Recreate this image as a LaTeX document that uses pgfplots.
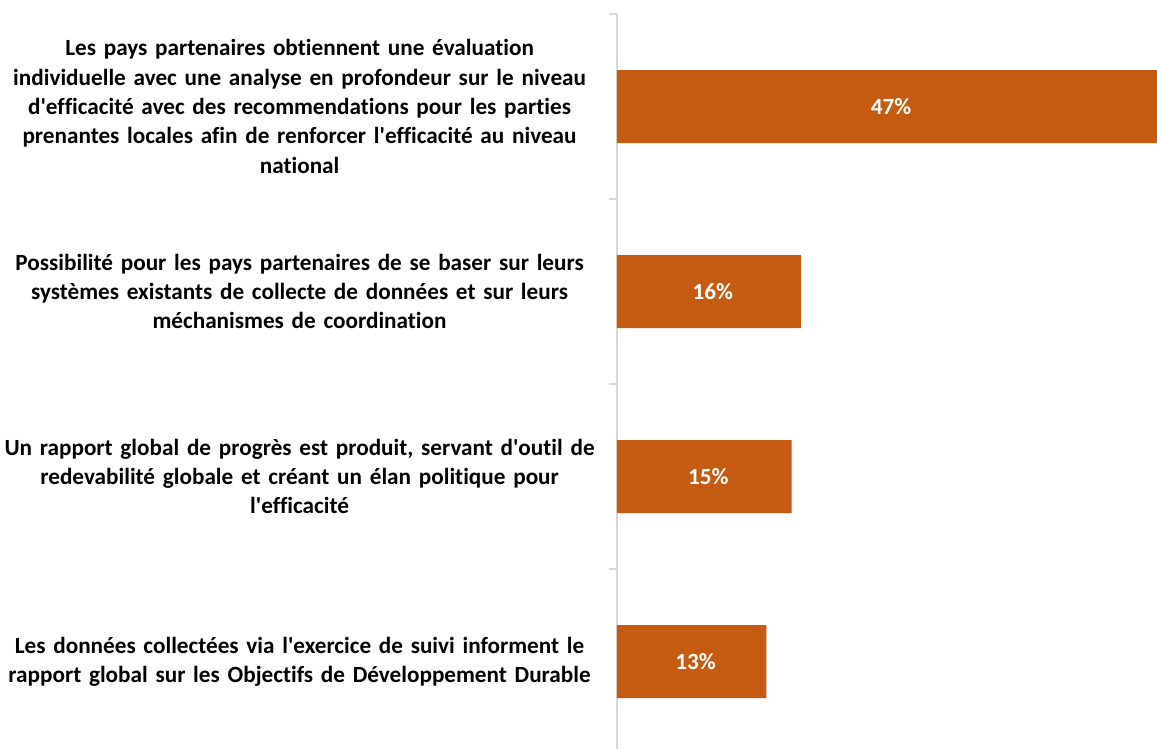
\documentclass[border=0pt]{standalone}
\usepackage{pgfplots}
\pgfplotsset{compat=1.18}
\usepackage{pgfplotstable}
\usepackage{fontspec}
\setmainfont{Carlito}[Ligatures=NoCommon]

\definecolor{barorange}{HTML}{C55A11}
\definecolor{axisgray}{HTML}{D9D9D9}
\newcommand{\q}{\textquotesingle}

\pgfplotstableread{
y v
0 47
1 16
2 15.2
3 13
}\datatable

\begin{document}
\begin{tikzpicture}
\begin{axis}[
    scale only axis,
    width=270pt, height=367.5pt,
    xmin=0, xmax=47,
    ymin=-0.5, ymax=3.473,
    y dir=reverse,
    axis x line=none,
    axis y line=left,
    axis line style={-, draw=axisgray, line width=1pt},
    ytick={0,1,2,3},
    yticklabels={
        {Les pays partenaires obtiennent une évaluation\\individuelle avec une analyse en profondeur sur le niveau\\d\q efficacité avec des recommendations pour les parties\\prenantes locales afin de renforcer l\q efficacité au niveau\\national},
        {Possibilité pour les pays partenaires de se baser sur leurs\\systèmes existants de collecte de données et sur leurs\\méchanismes de coordination},
        {Un rapport global de progrès est produit, servant d\q outil de\\redevabilité globale et créant un élan politique pour\\l\q efficacité},
        {Les données collectées via l\q exercice de suivi informent le\\rapport global sur les Objectifs de Développement Durable}
    },
    major tick length=0pt,
    minor ytick={-0.5,0.5,1.5,2.5},
    minor tick length=3.8pt,
    tick align=outside,
    minor tick style={draw=axisgray, line width=0.6pt},
    yticklabel style={anchor=east, inner sep=0pt, text width=310pt, align=center,
        xshift=-3.5pt, font=\bfseries\fontsize{11.6}{14.65}\selectfont},
    clip=false,
]
\addplot[xbar, bar width=36.5pt, fill=barorange, draw=none]
    table[x=v, y=y] {\datatable};
\addplot[draw=none, mark=none, point meta=explicit,
    nodes near coords={\pgfmathprintnumber[fixed, precision=0, assume math mode=true]{\pgfplotspointmeta}\%},
    every node near coord/.append style={anchor=center, text=white, xshift=2pt,
        font=\bfseries\fontsize{11.6}{14.65}\selectfont}]
    table[x expr=\thisrow{v}/2, y=y, meta=v] {\datatable};
\coordinate (tl) at (axis cs:0,-0.5);
\coordinate (br) at (axis cs:47,3.473);
\end{axis}
\pgfresetboundingbox
\path[use as bounding box] ([xshift=-308.5pt,yshift=7pt]tl) rectangle (br);
\end{tikzpicture}
\end{document}
